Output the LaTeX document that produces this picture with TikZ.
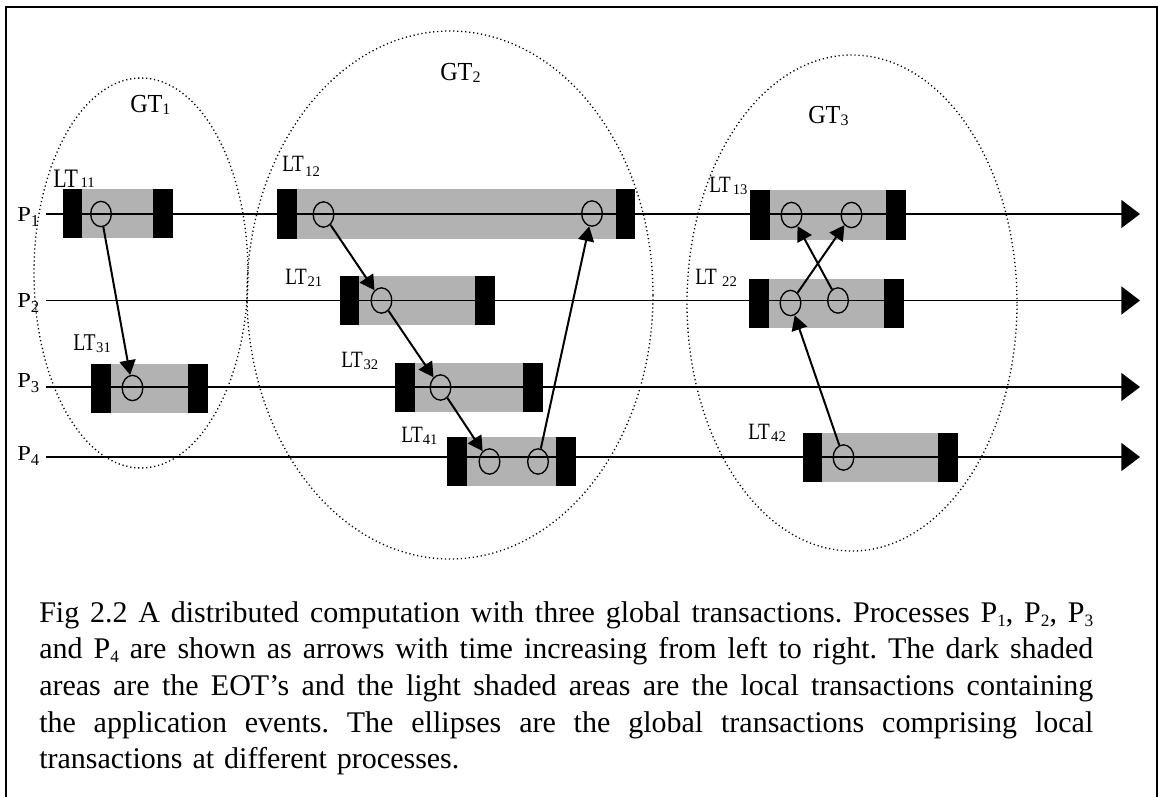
\documentclass[tikz,border=0pt]{standalone}
\usepackage{fontspec}
\setmainfont{Liberation Serif}
\newfontfamily\ltfont[FakeStretch=0.82]{Liberation Serif}
\newfontfamily\pfont[FakeStretch=1.15]{Liberation Serif}
\newfontfamily\gtfont[FakeStretch=0.93]{Liberation Serif}
\usetikzlibrary{arrows.meta,shapes.geometric}

% labels of local transactions, processes and global transactions
% \ltname{size}{kern}{sub shift}{number}
\newcommand\ltname[4]{{\ltfont\fontsize{#1}{20}\selectfont LT}\kern#2\raisebox{#3}{\fontsize{11}{12}\selectfont #4}}
\newcommand\pname[1]{{\pfont\fontsize{16}{18}\selectfont P}\raisebox{-4pt}{\fontsize{12.5}{14}\selectfont #1}}
\newcommand\gtname[1]{{\gtfont\fontsize{19.5}{22}\selectfont GT}\raisebox{-1.5pt}{\fontsize{12}{14}\selectfont #1}}
\newcommand\csub[1]{\raisebox{-3pt}{\fontsize{13}{14}\selectfont #1}}
% one justified caption line
\newcommand\capline[1]{\makebox[790.5pt][s]{\spaceskip=0pt\xspaceskip=0pt #1}}

% a local transaction: EOT bar, light body, EOT bar
% #1 left bar start, #2 body start, #3 body end, #4 right bar end, #5 top, #6 bottom
\newcommand\ltbox[6]{%
  \fill[ltbody] (#2,#5) rectangle (#3,#6);
  \fill[eot] (#1,#5) rectangle (#2,#6);
  \fill[eot] (#3,#5) rectangle (#4,#6);
}

\tikzset{
  lbl/.style={inner sep=0pt, anchor=base west},
  event/.style={ellipse, draw, line width=1pt, minimum width=15.5pt,
                minimum height=19pt, inner sep=0pt},
  msg/.style={line width=1.5pt, -{Triangle[length=11pt,width=12pt]}},
  proc/.style={line width=1.1pt, -{Triangle[length=14pt,width=21pt]}},
  eot/.style={fill=black},
  ltbody/.style={fill=black!30},
  gtborder/.style={ellipse, draw, inner sep=0pt, line width=1pt,
                   dash pattern=on 0.9pt off 2.1pt},
}

\begin{document}
\begin{tikzpicture}[x=0.75pt,y=-0.75pt]
\useasboundingbox (0,0) rectangle (1158,797);
\fill[white] (0,0) rectangle (1158,797);

% outer frame
\draw[line width=1.5pt] (6,797) -- (6,7) -- (1156.5,7) -- (1156.5,797);

% global transactions
\node[gtborder, minimum width=160.5pt, minimum height=292.5pt] (gt1) at (141,273) {};
\node[gtborder, minimum width=304.5pt, minimum height=396pt] (gt2) at (450,295) {};
\node[gtborder, minimum width=247.5pt, minimum height=372pt] (gt3) at (852,303) {};
\node[lbl] (gt1l) at (130,112) {\gtname{1}};
\node[lbl] (gt2l) at (440,80) {\gtname{2}};
\node[lbl] (gt3l) at (808,123) {\gtname{3}};

% local transactions
\ltbox{63}{82}{153}{173}{189}{238}
\ltbox{277}{297}{616}{635}{189}{239}
\ltbox{340}{359}{475}{495}{276}{325}
\ltbox{91}{111}{188}{208}{364}{413}
\ltbox{395}{415}{523}{543}{363}{412}
\ltbox{447}{467}{556}{576}{437}{486}
\ltbox{750}{770}{886}{906}{190}{240}
\ltbox{749}{769}{884}{904}{279}{328}
\ltbox{803}{822}{938}{958}{433}{482}

% processes
\coordinate (p1s) at (46,214);   \coordinate (p1e) at (1140,214);
\coordinate (p2s) at (46,300.5); \coordinate (p2e) at (1140,300.5);
\coordinate (p3s) at (46,387);   \coordinate (p3e) at (1140,387);
\coordinate (p4s) at (46,457);   \coordinate (p4e) at (1140,457);
\draw[proc] (p1s) -- (p1e);
\draw[proc] (p2s) -- (p2e);
\draw[proc] (p3s) -- (p3e);
\draw[proc] (p4s) -- (p4e);
\node[lbl] (pl1) at (17,221) {\pname{1}};
\node[lbl] (pl2) at (17,307) {\pname{2}};
\node[lbl] (pl3) at (17,387) {\pname{3}};
\node[lbl] (pl4) at (17,460) {\pname{4}};

% application events
\node[event] (e11)  at (101,214) {};
\node[event] (e31)  at (132.5,388) {};
\node[event] (e12a) at (323.5,214.5) {};
\node[event] (e12b) at (592,213.5) {};
\node[event] (e21)  at (381.5,300.5) {};
\node[event] (e32)  at (440.5,387.5) {};
\node[event] (e41a) at (489.5,461.5) {};
\node[event] (e41b) at (538,461.5) {};
\node[event] (e13a) at (791.5,215) {};
\node[event] (e13b) at (851.5,215) {};
\node[event] (e22a) at (790.5,303) {};
\node[event] (e22b) at (838,300.5) {};
\node[event] (e42)  at (843.5,457.5) {};

% messages
\draw[msg] (e11) -- (e31);
\draw[msg] (e12a) -- (e21);
\draw[msg] (e21) -- (e32);
\draw[msg] (e32) -- (e41a);
\draw[msg] (e41b) -- (e12b);
\draw[msg] (e22a) -- (e13b);
\draw[msg] (e22b) -- (e13a);
\draw[msg] (e42) -- (e22a);

% names of local transactions
\node[lbl] (lt11) at (53,187)  {\ltname{20}{2pt}{-0.5pt}{11}};
\node[lbl] (lt12) at (282,171) {\ltname{17.5}{1pt}{-4pt}{12}};
\node[lbl] (lt21) at (285,284) {\ltname{17.5}{0.5pt}{-1.5pt}{21}};
\node[lbl] (lt31) at (73,350)  {\ltname{18}{0.5pt}{-2pt}{31}};
\node[lbl] (lt32) at (341,367) {\ltname{17.5}{0.5pt}{-2pt}{32}};
\node[lbl] (lt41) at (401,442) {\ltname{17.5}{0pt}{-1.5pt}{41}};
\node[lbl] (lt13) at (709,192) {\ltname{17.5}{1.5pt}{-2pt}{13}};
\node[lbl] (lt22) at (695,284) {\ltname{17.5}{4pt}{-2pt}{22}};
\node[lbl] (lt42) at (748,439) {\ltname{17.5}{1pt}{-1.5pt}{42}};

% caption
\node[anchor=north west, inner sep=0pt, text width=790.5pt, align=left,
      font=\fontsize{22.5}{27.5}\selectfont\frenchspacing] (caption) at (39,601) {%
\capline{Fig 2.2 A distributed computation with three global transactions. Processes P\csub{1}, P\csub{2}, P\csub{3}}\\
\capline{and P\csub{4} are shown as arrows with time increasing from left to right. The dark shaded}\\
\capline{areas are the EOT’s and the light shaded areas are the local transactions containing}\\
\capline{the application events. The ellipses are the global transactions comprising local}\\
transactions at different processes.};
\end{tikzpicture}
\end{document}
